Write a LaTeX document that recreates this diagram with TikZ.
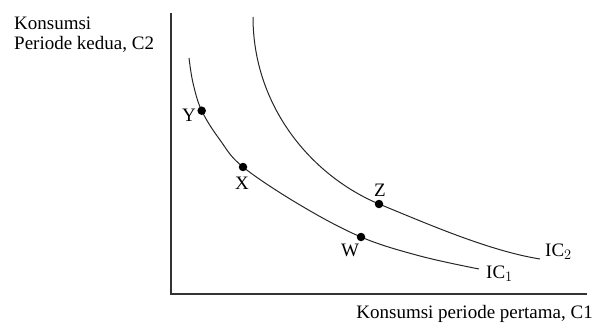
\documentclass[tikz,border=0pt]{standalone}
\usepackage{fontspec}
\setmainfont{Liberation Serif}
\usetikzlibrary{positioning}
\tikzset{
  axis/.style={line width=1.3pt,black!80},
  icurve/.style={line width=1pt,black!85},
  dot/.style={circle,fill=black,inner sep=0pt,minimum size=8.5pt},
  lbl/.style={font=\fontsize{19}{20}\selectfont,inner sep=0pt}
}
\begin{document}
\begin{tikzpicture}[x=1pt,y=-1pt]
  \useasboundingbox (0,0) rectangle (597,329);
  % Axes
  \coordinate (top) at (171,13);
  \coordinate (origin) at (171,294);
  \coordinate (right) at (587,294);
  \draw[axis] (top) -- (origin) -- (right);
  \node[lbl, anchor=base west] (ylbl1) at (14,30) {Konsumsi};
  \node[lbl, anchor=base west] (ylbl2) at (14,50) {Periode kedua, C2};
  \node[lbl, anchor=base east] (xlbl) at (593,318) {Konsumsi periode pertama, C1};

  % Points on the curves
  \coordinate (Y) at (201.7,110.7);
  \coordinate (X) at (243,167);
  \coordinate (W) at (361,237);
  \coordinate (Z) at (379,204);

  % Indifference curve IC1
  \coordinate (ic1a) at (189,58);
  \coordinate (ic1b) at (479,269);
  \draw[icurve] plot[smooth, tension=0.6] coordinates {(ic1a) (193,83) (Y) (220,140) (X) (300,205) (W) (420,256) (ic1b)};
  % Indifference curve IC2
  \coordinate (ic2a) at (253,17);
  \coordinate (ic2b) at (540,259);
  \draw[icurve] (ic2a) .. controls (253,105) and (310,175) .. (Z)
                       .. controls (430,225) and (490,251) .. (ic2b);

  % Dots and labels
  \foreach \p in {Y,X,W,Z}
    \node[dot] (d\p) at (\p) {};
  \node[lbl] (lY) at (189,115) {Y};
  \node[lbl] (lX) at (242,183) {X};
  \node[lbl] (lZ) at (380,190) {Z};
  \node[lbl] (lW) at (350,250) {W};
  \node[lbl, anchor=west] (lic2) at (545,252) {IC$_2$};
  \node[lbl, anchor=west] (lic1) at (486,274) {IC$_1$};
\end{tikzpicture}
\end{document}
